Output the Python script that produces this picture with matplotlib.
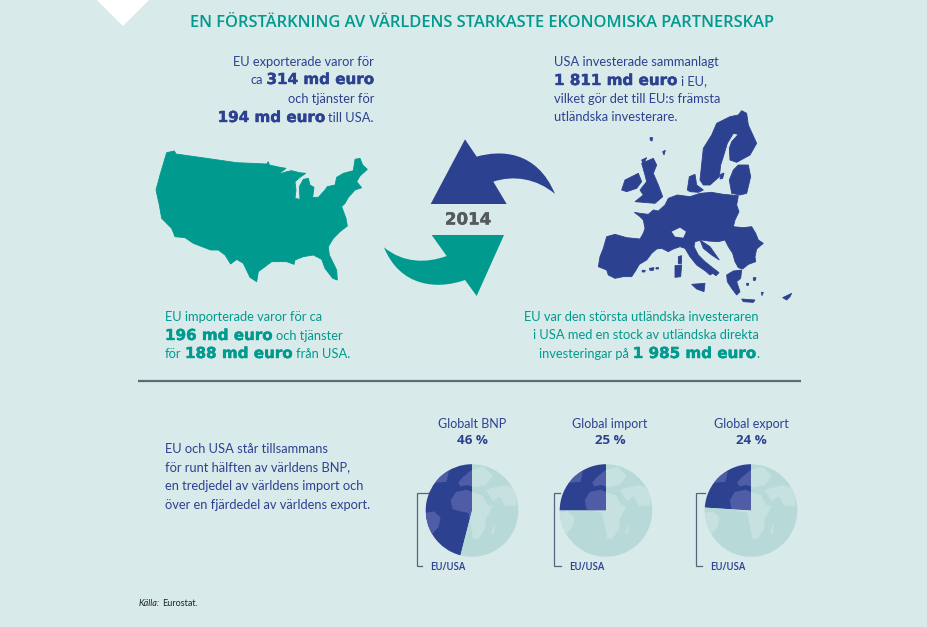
import matplotlib
matplotlib.use("Agg")
from matplotlib import pyplot as plt
from matplotlib.patches import Polygon, PathPatch
from matplotlib.path import Path
import matplotlib.patheffects as pe

BG = '#d9eaea'
TEAL = '#009a8e'
NAVY = '#2d4191'
LINE = '#56657c'
BODY = 'Lato'
BOLD = 'DejaVu Sans'
BODY_SIZE = 9.25

pie_titles = ['Globalt BNP', 'Global import', 'Global export']
pie_shares = [46, 25, 24]
pie_labels = ['46 %', '25 %', '24 %']
pie_x = [472, 606, 751]
title_x = [472, 610, 751.5]
bracket_x = [(428, 417, 422), (560, 554, 561), (705, 696, 702)]
eu_label_x = [430, 569, 710]

# outlines, in zoomed crop pixels
usa = [(80,38),(103,33),(108,42),(200,55),(290,68),(380,72),(385,65),(388,75),(420,82),(438,85),
       (415,103),(440,95),(455,92),(478,98),(497,100),(480,112),(465,125),(468,150),(465,175),(480,178),
       (478,140),(490,118),(505,115),(510,135),(522,142),(518,172),(535,172),(555,150),(562,140),(585,135),
       (590,112),(610,100),(640,92),(645,58),(660,55),(668,75),(682,88),(660,108),(650,125),(665,143),
       (645,150),(625,172),(615,190),(605,200),(618,235),(622,258),(600,275),(580,295),(565,320),(568,345),
       (590,390),(592,420),(578,415),(555,385),(545,358),(520,345),(490,350),(465,360),(462,373),(440,365),
       (395,365),(355,395),(350,425),(330,412),(310,370),(290,358),(272,372),(255,345),(235,330),(212,330),
       (160,310),(135,293),(105,290),(95,265),(65,235),(58,195),(48,150),(60,105)]

eu_parts = [
    [(330,225),(340,130),(365,90),(380,55),(420,35),(445,30),(455,17),(470,25),(475,60),(500,115),(480,150),
     (440,172),(420,165),(418,130),(425,110),(445,88),(430,85),(412,115),(400,155),(392,180),(388,215),(360,240),(340,240)],
    [(418,225),(430,195),(445,180),(475,180),(482,215),(470,265),(450,270),(425,265)],
    [(292,255),(298,215),(315,208),(320,240),(340,255),(325,262),(300,260)],
    [(155,175),(190,160),(200,180),(190,205),(205,240),(218,275),(195,295),(135,290),(160,270),(150,255),(170,230),(165,210)],
    [(95,255),(105,225),(145,205),(155,230),(140,250),(110,260)],
    [(133,322),(150,325),(175,328),(190,315),(205,318),(225,300),(235,280),(262,270),(300,275),(330,265),(365,262),
     (400,268),(445,272),(440,300),(447,320),(435,345),(430,365),(460,368),(485,365),(497,385),(505,405),(520,415),
     (508,425),(500,432),(495,455),(497,470),(475,478),(458,492),(445,488),(435,470),(428,445),(415,425),(405,405),
     (385,410),(355,408),(335,405),(315,410),(312,425),(325,450),(345,470),(370,490),(387,503),(378,512),(368,505),
     (360,510),(345,497),(320,480),(300,455),(285,430),(270,425),(250,432),(235,440),(215,430),(200,432),(185,445),
     (170,465),(148,478),(135,500),(125,515),(100,515),(75,520),(55,510),(50,495),(25,485),(30,455),(40,430),(50,395),
     (75,388),(110,398),(150,402),(160,385),(165,370),(160,345),(150,335)],
    [(330,405),(360,425),(388,465),(365,450),(340,430)],
    [(410,510),(430,498),(455,495),(452,520),(440,530),(450,560),(440,570),(425,550),(412,530)],
    [(305,538),(345,535),(342,560),(320,552)],
    [(255,482),(275,480),(272,515),(255,517)],
    [(265,455),(275,452),(274,476),(265,476)],
    [(455,582),(495,585),(490,592),(460,590)],
    [(578,578),(605,565),(600,575),(590,585)],
    [(178,490),(192,488),(190,496),(180,496)],
    [(156,496),(166,496),(164,501),(157,501)],
    [(198,488),(206,488),(205,492),(198,492)],
    [(392,208),(402,204),(398,220),(390,222)],
    [(180,98),(188,98),(186,108),(181,106)],
    [(218,140),(226,136),(222,150)],
    [(155,165),(170,158),(160,178)],
    [(490,518),(498,518),(496,526),(490,526)],
    [(470,535),(476,535),(475,541),(470,541)],
    [(514,562),(520,562),(516,572)],
]
swiss = [(245,380),(270,368),(288,380),(280,398),(255,395)]

# land on the globes, unit circle
land = [
    [(-0.46,0.22),(-0.35,0.40),(-0.12,0.45),(0.05,0.38),(0.22,0.33),(0.33,0.12),(0.45,0.10),(0.30,-0.18),(0.28,-0.4),
     (0.15,-0.6),(0.03,-0.62),(-0.03,-0.3),(-0.08,-0.05),(-0.25,-0.02),(-0.42,0.03)],
    [(-0.25,0.52),(-0.1,0.55),(0.05,0.5),(0.3,0.55),(0.45,0.75),(0.25,0.95),(0,0.88),(-0.2,0.72),(-0.3,0.6)],
    [(0.3,0.45),(0.7,0.55),(0.98,0.45),(0.95,0.1),(0.72,0.1),(0.6,0.3),(0.45,0.2)],
    [(-1.0,-0.05),(-0.82,-0.02),(-0.68,-0.15),(-0.72,-0.35),(-0.85,-0.5),(-0.92,-0.6),(-1.0,-0.4)],
    [(0.45,-0.35),(0.5,-0.3),(0.47,-0.5),(0.42,-0.5)],
    [(-0.8,0.6),(-0.55,0.62),(-0.5,0.85),(-0.7,0.75)],
]

fig = plt.figure(figsize=(9.28, 6.27), dpi=100, facecolor=BG)
ax = fig.add_axes([0, 0, 1, 1])
ax.set_xlim(0, 928)
ax.set_ylim(627, 0)
ax.axis('off')
rend = fig.canvas.get_renderer()


def crop(pts, x0, y0):
    return [(x0 + p[0] / 3, y0 + p[1] / 3) for p in pts]


def runs_line(x, y, runs, color, align='left'):
    # one line of mixed text, runs are (string, is_bold)
    items = []
    for s, b in runs:
        if b:
            t = ax.text(x, y, s, family=BOLD, weight='bold', fontsize=10.9, color=color, va='baseline',
                        path_effects=[pe.withStroke(linewidth=0.3, foreground=color)])
        else:
            t = ax.text(x, y, s, family=BODY, fontsize=BODY_SIZE, color=color, va='baseline')
        items.append(t)
    widths = [t.get_window_extent(rend).width for t in items]
    gaps = [0 if r[0] == '.' else 3.5 for r in runs[1:]]
    total = sum(widths) + sum(gaps)
    cur = x - total if align == 'right' else x
    for i, t in enumerate(items):
        t.set_x(cur)
        cur += widths[i]
        if i < len(gaps):
            cur += gaps[i]


ax.add_patch(Polygon([(97, 0), (149, 0), (123, 26)], fc='white', ec='none'))
ax.text(190, 27, 'EN FÖRSTÄRKNING AV VÄRLDENS STARKASTE EKONOMISKA PARTNERSKAP', family='Open Sans',
        weight='semibold', fontsize=11.85, color=TEAL, va='baseline')

runs_line(374, 66, [('EU exporterade varor för', False)], NAVY, 'right')
runs_line(374, 84, [('ca', False), ('314 md euro', True)], NAVY, 'right')
runs_line(374, 103, [('och tjänster för', False)], NAVY, 'right')
runs_line(374, 122, [('194 md euro', True), ('till USA.', False)], NAVY, 'right')

runs_line(554, 66, [('USA investerade sammanlagt', False)], NAVY)
runs_line(554, 85, [('1 811 md euro', True), ('i EU,', False)], NAVY)
runs_line(554, 103, [('vilket gör det till EU:s främsta', False)], NAVY)
runs_line(554, 121, [('utländska investerare.', False)], NAVY)

runs_line(165, 321, [('EU importerade varor för ca', False)], TEAL)
runs_line(165, 340, [('196 md euro', True), ('och tjänster', False)], TEAL)
runs_line(165, 358, [('för', False), ('188 md euro', True), ('från USA.', False)], TEAL)

runs_line(759, 321, [('EU var den största utländska investeraren', False)], TEAL, 'right')
runs_line(759, 339, [('i USA med en stock av utländska direkta', False)], TEAL, 'right')
runs_line(759, 358, [('investeringar på', False), ('1 985 md euro', True), ('.', False)], TEAL, 'right')

ax.add_patch(Polygon(crop(usa, 140, 140), fc=TEAL, ec=TEAL, lw=0.6))
for part in eu_parts:
    ax.add_patch(Polygon(crop(part, 590, 105), fc=NAVY, ec=NAVY, lw=0.6))
ax.add_patch(Polygon(crop(swiss, 590, 105), fc=BG, ec='none'))

# circular arrows
M, L, C, Z = Path.MOVETO, Path.LINETO, Path.CURVE4, Path.CLOSEPOLY
navy_pts = [(255,28),(290,80),(360,60),(470,60),(525,192),(470,145),(400,135),(340,155),(380,222),(152,222),(255,28)]
navy_codes = [M, L, C, C, C, C, C, C, L, L, Z]
teal_pts = [(155,315),(372,315),(290,498),(255,450),(170,480),(60,470),(12,352),(70,400),(140,400),(200,378),(155,315)]
teal_codes = [M, L, L, L, C, C, C, C, C, C, Z]
ax.add_patch(PathPatch(Path(crop(navy_pts, 380, 130), navy_codes), fc=NAVY, ec='none'))
ax.add_patch(PathPatch(Path(crop(teal_pts, 380, 130), teal_codes), fc=TEAL, ec='none'))
ax.text(468, 219.5, '2014', family=BOLD, weight='bold', fontsize=12, color='#555a5c', ha='center', va='center',
        path_effects=[pe.withStroke(linewidth=0.3, foreground='#555a5c')])

ax.plot([138, 801], [381, 381], color='#5c6b6e', lw=1.6, solid_capstyle='butt')

for y, s in zip([453, 471, 490, 509], ['EU och USA står tillsammans', 'för runt hälften av världens BNP,',
                                        'en tredjedel av världens import och', 'över en fjärdedel av världens export.']):
    ax.text(165, y, s, family=BODY, fontsize=BODY_SIZE, color=NAVY, va='baseline')

for i in range(3):
    ax.text(title_x[i], 428, pie_titles[i], family=BODY, fontsize=9, color=NAVY, ha='center', va='baseline')
    ax.text(title_x[i], 444, pie_labels[i], family='Open Sans', weight='bold', fontsize=9.6, color=NAVY, ha='center', va='baseline')
    x1, x2, x3 = bracket_x[i]
    ax.plot([x1, x2, x2, x3], [493, 493, 566, 566], color=LINE, lw=0.9, solid_joinstyle='miter')
    ax.text(eu_label_x[i], 570, 'EU/USA', family='Open Sans', weight='semibold', fontsize=7, color=NAVY, va='baseline')

    r = 46.3
    pax = fig.add_axes([(pie_x[i] - r) / 928, 1 - (510.5 + r) / 627, 2 * r / 928, 2 * r / 627])
    wedges, _ = pax.pie([pie_shares[i], 100 - pie_shares[i]], colors=[NAVY, '#b7dad8'], startangle=90,
                        counterclock=True, radius=1)
    pax.set_xlim(-1, 1)
    pax.set_ylim(-1, 1)
    pax.axis('off')
    for shape in land:
        dark = pax.add_patch(Polygon(shape, fc='#4f5ca6', ec='none'))
        dark.set_clip_path(wedges[0])
        light = pax.add_patch(Polygon(shape, fc='#c6e1df', ec='none'))
        light.set_clip_path(wedges[1])

ax.text(139, 606, 'Källa:', family=BODY, style='italic', fontsize=6.5, color='#222222', va='baseline')
ax.text(162, 606, 'Eurostat.', family=BODY, fontsize=6.5, color='#222222', va='baseline')

fig.savefig('out.png', dpi=100, facecolor=BG)
